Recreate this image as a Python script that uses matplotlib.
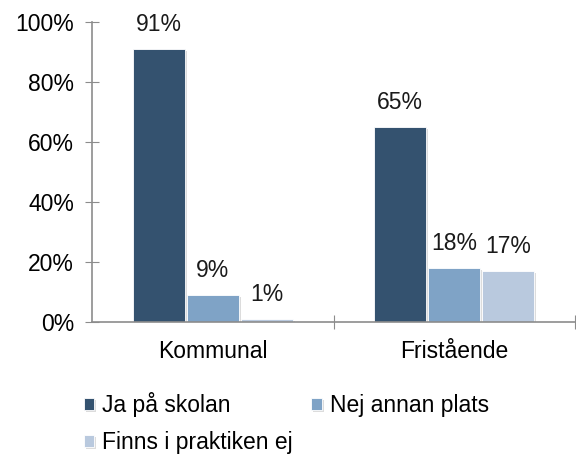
import matplotlib
matplotlib.use('Agg')
import matplotlib.pyplot as plt
import matplotlib.patheffects as pe
import numpy as np

plt.rcParams['font.family'] = ['Liberation Sans', 'DejaVu Sans']

# --- data ---
categories = ['Kommunal', 'Fristående']
series = ['Ja på skolan', 'Nej annan plats', 'Finns i praktiken ej']
ja_pa_skolan = [91, 65]
nej_annan_plats = [9, 18]
finns_ej = [1, 17]

COLORS = ['#34526f', '#7fa3c6', '#b9c9de']
AXIS_COLOR = '#8c8c8c'
FS = 16.5

fig = plt.figure(figsize=(5.76, 4.58), dpi=100)
ax = fig.add_axes([0.16, 0.297, 0.838, 0.655])

x = np.arange(len(categories))
width = 0.215
step = 0.224
shadow = [pe.SimplePatchShadow(offset=(1.5, -1.5), shadow_rgbFace='#bbbbbb', alpha=0.5), pe.Normal()]

handles = []
for i, (name, vals) in enumerate(zip(series, [ja_pa_skolan, nej_annan_plats, finns_ej])):
    bars = ax.bar(x + (i - 1) * step, vals, width, color=COLORS[i], label=name,
                  edgecolor='white', linewidth=0.6, path_effects=shadow, zorder=2)
    handles.append(bars)
    for bar, v in zip(bars, vals):
        ax.annotate(f'{v}%', (bar.get_x() + bar.get_width() / 2, bar.get_height()),
                    xytext=(0, 9), textcoords='offset points', ha='center', va='bottom',
                    fontsize=FS, color='#1a1a1a')

ax.set_xlim(-0.5, 1.5)
ax.set_ylim(0, 100)
ax.set_yticks(range(0, 101, 20))
ax.set_yticklabels([f'{t}%' for t in range(0, 101, 20)])
ax.set_xticks([0.5, 1.5], minor=False)
ax.set_xticklabels(['', ''])
ax.set_xticks(x, minor=True)
ax.set_xticklabels(categories, minor=True)
ax.tick_params(axis='x', which='minor', length=0, labelsize=FS, pad=13)
ax.tick_params(axis='x', which='major', direction='inout', length=10, color=AXIS_COLOR)
ax.tick_params(axis='y', direction='inout', length=10, color=AXIS_COLOR, labelsize=FS, pad=8)

for s in ['top', 'right']:
    ax.spines[s].set_visible(False)
for s in ['left', 'bottom']:
    ax.spines[s].set_color(AXIS_COLOR)
    ax.spines[s].set_linewidth(1.2)
ax.spines['bottom'].set_zorder(3)

order = [0, 2, 1]
fig.legend([handles[k] for k in order], [series[k] for k in order],
           loc='lower left', bbox_to_anchor=(0.11, -0.036), ncol=2, frameon=False,
           fontsize=FS, handlelength=0.45, handleheight=0.45, handletextpad=0.35,
           columnspacing=0.8, labelspacing=0.6)

fig.savefig('out.png', dpi=100, facecolor='white')
